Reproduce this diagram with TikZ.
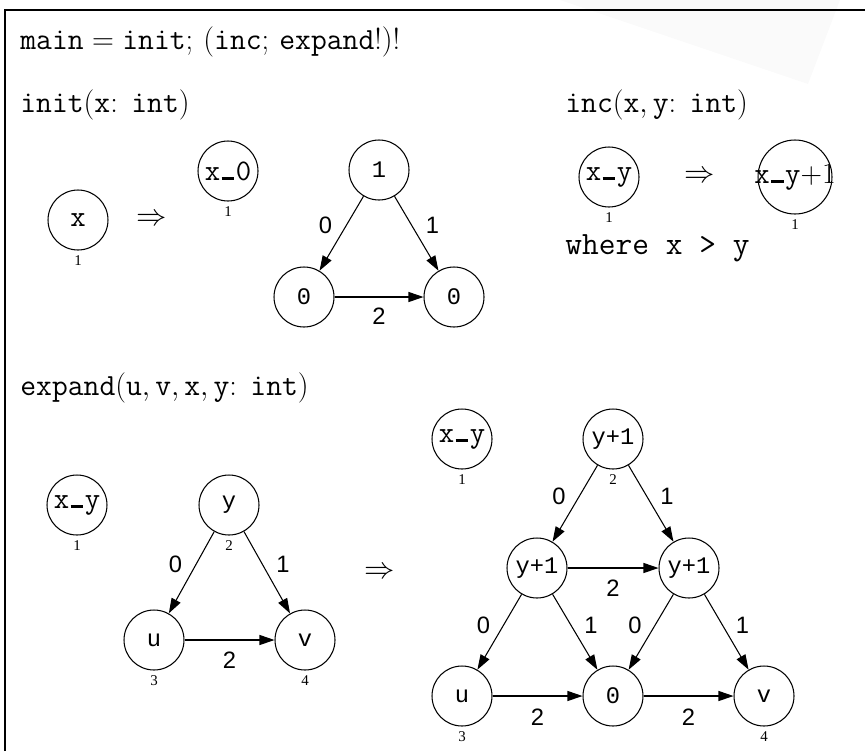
\documentclass[tikz,border=0pt]{standalone}
\usepackage{fontspec}
\usepackage{tikz}
\usetikzlibrary{arrows.meta, positioning}
\newfontfamily\cour{Liberation Mono}
\newfontfamily\helv{Liberation Sans}
\newfontfamily\tms{Liberation Serif}
\newcommand{\usc}{\kern.05em\rule{.42em}{.1em}\kern.05em}

\begin{document}
\begin{tikzpicture}[x=0.02cm, y=-0.02cm, label distance=1.5pt,
    vtx/.style={draw, circle, minimum size=1.2cm, inner sep=0pt,
                line width=0.6pt, font=\cour\fontsize{13.5}{15}\selectfont},
    tvtx/.style={vtx, font=\fontsize{17}{19}\selectfont\ttfamily},
    idx/.style={font=\tms\fontsize{8.5}{10}\selectfont, inner sep=1pt},
    elab/.style={font=\helv\fontsize{13.5}{15}\selectfont, inner sep=0pt},
    ttl/.style={anchor=west, inner sep=0pt, font=\fontsize{17.5}{19}\selectfont},
    imp/.style={inner sep=0pt, font=\fontsize{17.5}{19}\selectfont},
    arr/.style={-{Triangle[length=3mm,width=2mm]}, line width=0.6pt},
]
    \useasboundingbox (0,0) rectangle (865,751);
    \fill[black!2] (560,0) -- (840,0) -- (808,84) -- cycle;
    \draw[line width=1.7pt] (5,751) -- (5,10) -- (865,10);

    \node[ttl] (tmain) at (20,42)
        {$\mathtt{main}=\mathtt{init};\,(\mathtt{inc};\,\mathtt{expand}!)!$};

    \node[ttl] (tinit) at (20,105) {$\mathtt{init}(\mathtt{x}\colon\;\mathtt{int})$};
    \node[tvtx, label={[idx]below:1}] (x)  at (78,220)  {x};
    \node[imp]                        (i1) at (152,220) {$\Rightarrow$};
    \node[tvtx, label={[idx]below:1}] (x0) at (228,171) {x\usc0};
    \node[vtx] (n1) at (379,170) {1};
    \node[vtx] (na) at (304,297) {0};
    \node[vtx] (nb) at (454,297) {0};
    \draw[arr] (n1) -- node[elab, xshift=-0.32cm, yshift=0.16cm] {0} (na);
    \draw[arr] (n1) -- node[elab, xshift=0.32cm, yshift=0.16cm] {1} (nb);
    \draw[arr] (na) -- node[elab, yshift=-0.38cm] {2} (nb);

    \node[ttl] (tinc) at (565,105) {$\mathtt{inc}(\mathtt{x},\mathtt{y}\colon\;\mathtt{int})$};
    \node[tvtx, label={[idx]below:1}] (xy)  at (609,177) {x\usc y};
    \node[imp]                        (i2)  at (700,177) {$\Rightarrow$};
    \node[tvtx, minimum size=1.48cm, label={[idx]below:1}] (xy1) at (795,177)
        {\makebox[0pt]{x\usc y{\rmfamily+1}}};
    \node[ttl, font=\fontsize{18.5}{20}\selectfont\ttfamily] (wh) at (565,248) {where x > y};

    \node[ttl] (texp) at (20,388)
        {$\mathtt{expand}(\mathtt{u},\mathtt{v},\mathtt{x},\mathtt{y}\colon\;\mathtt{int})$};
    \node[tvtx, label={[idx]below:1}] (lxy) at (77,505)  {x\usc y};
    \node[vtx, label={[idx]below:2}]  (ly)  at (229,505) {y};
    \node[vtx, label={[idx]below:3}]  (lu)  at (154,640) {u};
    \node[vtx, label={[idx]below:4}]  (lv)  at (305,640) {v};
    \draw[arr] (ly) -- node[elab, xshift=-0.32cm, yshift=0.16cm] {0} (lu);
    \draw[arr] (ly) -- node[elab, xshift=0.32cm, yshift=0.16cm] {1} (lv);
    \draw[arr] (lu) -- node[elab, yshift=-0.4cm] {2} (lv);
    \node[imp] (i3) at (380,573) {$\Rightarrow$};

    \node[tvtx, label={[idx]below:1}] (rxy) at (462,439) {x\usc y};
    \node[vtx, label={[idx]below:2}]  (rt)  at (613,439) {y+1};
    \node[vtx]                        (rl)  at (537,568) {y+1};
    \node[vtx]                        (rr)  at (689,568) {y+1};
    \node[vtx, label={[idx]below:3}]  (ru)  at (462,696) {u};
    \node[vtx]                        (rz)  at (613,696) {0};
    \node[vtx, label={[idx]below:4}]  (rv)  at (764,696) {v};
    \draw[arr] (rt) -- node[elab, xshift=-0.32cm, yshift=0.14cm] {0} (rl);
    \draw[arr] (rt) -- node[elab, xshift=0.32cm, yshift=0.14cm] {1} (rr);
    \draw[arr] (rl) -- node[elab, yshift=-0.4cm] {2} (rr);
    \draw[arr] (rl) -- node[elab, xshift=-0.32cm, yshift=0.14cm] {0} (ru);
    \draw[arr] (rl) -- node[elab, xshift=0.32cm, yshift=0.14cm] {1} (rz);
    \draw[arr] (rr) -- node[elab, xshift=-0.32cm, yshift=0.14cm] {0} (rz);
    \draw[arr] (rr) -- node[elab, xshift=0.32cm, yshift=0.14cm] {1} (rv);
    \draw[arr] (ru) -- node[elab, yshift=-0.42cm] {2} (rz);
    \draw[arr] (rz) -- node[elab, yshift=-0.42cm] {2} (rv);
\end{tikzpicture}
\end{document}
